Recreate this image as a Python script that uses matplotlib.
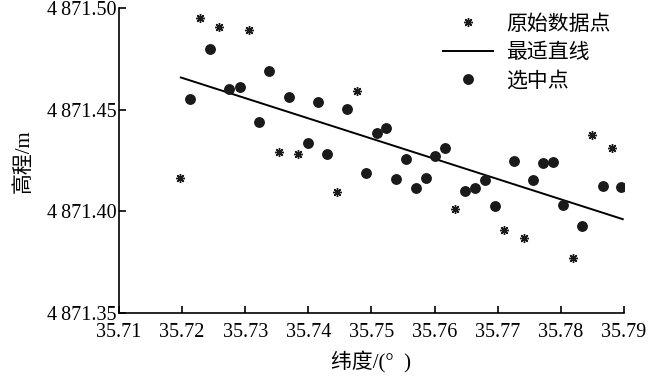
import numpy as np
import matplotlib
matplotlib.use("Agg")
import matplotlib.pyplot as plt
from matplotlib.ticker import FuncFormatter

plt.rcParams['font.family'] = ['Liberation Serif', 'Noto Sans CJK SC']

# raw data points (latitude, elevation)
lat = [35.7197, 35.7213, 35.7228, 35.7244, 35.7259, 35.7275, 35.7291, 35.7306,
       35.7322, 35.7338, 35.7353, 35.7369, 35.7384, 35.7399, 35.7415, 35.7430,
       35.7446, 35.7461, 35.7477, 35.7492, 35.7509, 35.7523, 35.7539, 35.7555,
       35.7570, 35.7586, 35.7601, 35.7617, 35.7633, 35.7648, 35.7664, 35.7679,
       35.7695, 35.7710, 35.7726, 35.7741, 35.7756, 35.7772, 35.7788, 35.7803,
       35.7819, 35.7834, 35.7849, 35.7866, 35.7881, 35.7896]
elev = [4871.4166, 4871.4555, 4871.4954, 4871.4798, 4871.4909, 4871.4601, 4871.4612, 4871.4893,
        4871.4441, 4871.4690, 4871.4294, 4871.4565, 4871.4281, 4871.4338, 4871.4540, 4871.4284,
        4871.4094, 4871.4504, 4871.4593, 4871.4190, 4871.4387, 4871.4412, 4871.4159, 4871.4259,
        4871.4116, 4871.4164, 4871.4274, 4871.4312, 4871.4010, 4871.4099, 4871.4116, 4871.4156,
        4871.4025, 4871.3911, 4871.4251, 4871.3867, 4871.4156, 4871.4238, 4871.4244, 4871.4033,
        4871.3770, 4871.3926, 4871.4376, 4871.4125, 4871.4315, 4871.4120]
# 1 = selected point, 0 = rejected raw point
selected = [0, 1, 0, 1, 0, 1, 1, 0,
            1, 1, 0, 1, 0, 1, 1, 1,
            0, 1, 0, 1, 1, 1, 1, 1,
            1, 1, 1, 1, 0, 1, 1, 1,
            1, 0, 1, 0, 1, 1, 1, 1,
            0, 1, 0, 1, 0, 1]
# best-fit line end points
fit_lat = [35.7198, 35.7898]
fit_elev = [4871.4660, 4871.3962]

xticks = [35.71, 35.72, 35.73, 35.74, 35.75, 35.76, 35.77, 35.78, 35.79]
yticks = [4871.35, 4871.40, 4871.45, 4871.50]

lat_a = np.array(lat)
elev_a = np.array(elev)
sel = np.array(selected, dtype=bool)

fig = plt.figure(figsize=(6.48, 3.84), dpi=100)
ax = fig.add_axes([0.1836, 0.185, 0.7794, 0.793])

ax.plot(lat_a, elev_a, linestyle='none', marker=(8, 2, 0), markersize=6.5,
        color='#1a1a1a', markeredgewidth=1.0, label='原始数据点')
ax.plot(fit_lat, fit_elev, color='black', linewidth=1.4, label='最适直线')
ax.plot(lat_a[sel], elev_a[sel], linestyle='none', marker='o', markersize=6.8,
        color='#1a1a1a', markeredgecolor='#1a1a1a', label='选中点')

ax.set_xlim(35.71, 35.79)
ax.set_ylim(4871.35, 4871.50)
ax.set_xticks(xticks)
ax.set_yticks(yticks)
ax.xaxis.set_major_formatter(FuncFormatter(lambda v, p: f"{v:.2f}"))
ax.yaxis.set_major_formatter(FuncFormatter(lambda v, p: f"{v:,.2f}".replace(',', '\u2009')))

for s in ['top', 'right']:
    ax.spines[s].set_visible(False)
for s in ['left', 'bottom']:
    ax.spines[s].set_linewidth(1.2)
ax.tick_params(direction='in', length=5, width=1.2, labelsize=14.5)
ax.tick_params(axis='x', pad=7)
ax.tick_params(axis='y', pad=2)

ax.set_xlabel('纬度/(°  )', fontsize=15, labelpad=7)
ax.set_ylabel('高程/m', fontsize=15, labelpad=9)

ax.legend(loc='upper right', bbox_to_anchor=(1.01, 1.04), frameon=False,
          fontsize=15, handlelength=2.4, handletextpad=0.6, labelspacing=0.42)

fig.savefig('out.png', dpi=100)
